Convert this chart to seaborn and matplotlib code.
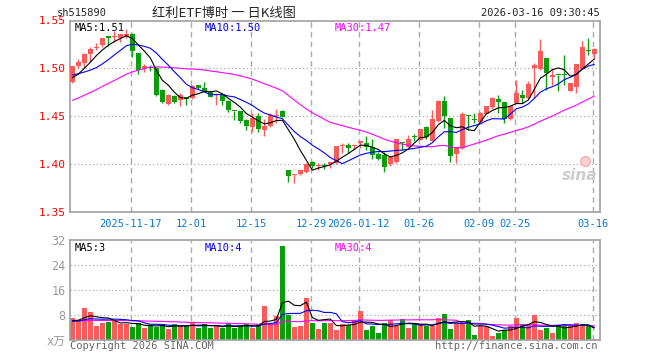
import numpy as np
import pandas as pd
import matplotlib
matplotlib.use('Agg')
import matplotlib.pyplot as plt
import seaborn as sns

# 日K数据 (2025-11-03 ~ 2026-03-16)
open_ = [1.486, 1.503, 1.506, 1.515, 1.521, 1.524, 1.534, 1.533, 1.532, 1.534,
         1.536, 1.516, 1.500, 1.501, 1.500, 1.477, 1.463, 1.4715, 1.467, 1.470,
         1.469, 1.4827, 1.479, 1.4757, 1.472, 1.473, 1.466, 1.4558, 1.4556, 1.4462,
         1.4385, 1.4503, 1.4357, 1.440, 1.4505, 1.455, 1.3937, 1.389, 1.3895, 1.392,
         1.4017, 1.3978, 1.3982, 1.400, 1.4007, 1.4185, 1.420, 1.4185, 1.4217, 1.4217,
         1.4182, 1.4105, 1.4094, 1.400, 1.4024, 1.4227, 1.4182, 1.4283, 1.4252, 1.4385,
         1.4245, 1.4455, 1.4661, 1.448, 1.4107, 1.4166, 1.4505, 1.4462, 1.4444, 1.4524,
         1.460, 1.4683, 1.4649, 1.4475, 1.4638, 1.4725, 1.469, 1.5003, 1.4997, 1.5108,
         1.4906, 1.4932, 1.4937, 1.4767, 1.4802, 1.4997, 1.518, 1.515]
high = [1.503, 1.510, 1.516, 1.522, 1.527, 1.532, 1.534, 1.539, 1.536, 1.541,
        1.537, 1.516, 1.505, 1.504, 1.501, 1.478, 1.473, 1.472, 1.474, 1.4705,
        1.483, 1.483, 1.4858, 1.4768, 1.4747, 1.4733, 1.4665, 1.4558, 1.456, 1.447,
        1.4538, 1.453, 1.447, 1.453, 1.4573, 1.4565, 1.394, 1.3897, 1.394, 1.401,
        1.4035, 1.4007, 1.4007, 1.4027, 1.419, 1.4224, 1.4217, 1.4203, 1.4245, 1.4294,
        1.4259, 1.4129, 1.4129, 1.408, 1.426, 1.4234, 1.4304, 1.4315, 1.437, 1.440,
        1.4566, 1.467, 1.4713, 1.4485, 1.418, 1.454, 1.451, 1.4531, 1.454, 1.461,
        1.470, 1.4725, 1.465, 1.461, 1.4882, 1.4777, 1.4864, 1.5056, 1.531, 1.511,
        1.5003, 1.4932, 1.5136, 1.4847, 1.5045, 1.5289, 1.5317, 1.521]
low = [1.485, 1.500, 1.500, 1.507, 1.519, 1.522, 1.523, 1.528, 1.528, 1.532,
       1.512, 1.494, 1.496, 1.497, 1.471, 1.464, 1.462, 1.464, 1.461, 1.462,
       1.4677, 1.478, 1.4765, 1.470, 1.4618, 1.462, 1.4549, 1.4462, 1.4427, 1.4357,
       1.434, 1.434, 1.4295, 1.439, 1.4427, 1.449, 1.3815, 1.380, 1.389, 1.391,
       1.3955, 1.3937, 1.3944, 1.3955, 1.400, 1.4119, 1.4119, 1.4147, 1.4164, 1.4147,
       1.405, 1.404, 1.392, 1.398, 1.4014, 1.4147, 1.4175, 1.4245, 1.425, 1.4259,
       1.4245, 1.4444, 1.4374, 1.4027, 1.401, 1.4155, 1.4357, 1.4427, 1.444, 1.452,
       1.458, 1.4534, 1.443, 1.446, 1.4635, 1.4638, 1.4685, 1.469, 1.4986, 1.4777,
       1.483, 1.476, 1.483, 1.476, 1.4743, 1.4997, 1.5143, 1.510]
close = [1.503, 1.507, 1.515, 1.520, 1.522, 1.532, 1.532, 1.534, 1.536, 1.536,
         1.518, 1.498, 1.502, 1.500, 1.4725, 1.465, 1.4725, 1.465, 1.4725, 1.4685,
         1.4817, 1.480, 1.4768, 1.4705, 1.4733, 1.4664, 1.4566, 1.4556, 1.4455, 1.440,
         1.4483, 1.4364, 1.440, 1.4514, 1.4514, 1.4497, 1.3874, 1.3895, 1.3937, 1.400,
         1.398, 1.3983, 1.3978, 1.4024, 1.4189, 1.4189, 1.4171, 1.420, 1.4241, 1.4175,
         1.4094, 1.4056, 1.3972, 1.4077, 1.4259, 1.4224, 1.4259, 1.428, 1.4364, 1.428,
         1.4472, 1.4664, 1.4503, 1.4086, 1.4176, 1.4524, 1.4503, 1.4458, 1.4531, 1.4608,
         1.4695, 1.4649, 1.4475, 1.4603, 1.4742, 1.469, 1.4836, 1.5031, 1.5184, 1.4948,
         1.493, 1.493, 1.4934, 1.4847, 1.5045, 1.5219, 1.5177, 1.5205]
# 成交量 (万手)
volume = [6.9, 6.4, 10.2, 9.1, 4.5, 5.5, 5.9, 6.3, 5.0, 5.0,
          4.3, 5.5, 3.9, 4.5, 4.3, 5.0, 3.6, 5.0, 4.5, 4.5,
          5.9, 3.9, 5.0, 3.9, 4.5, 3.9, 5.4, 3.9, 4.5, 5.1,
          3.9, 5.1, 11.0, 5.2, 7.8, 30.2, 8.0, 4.3, 4.6, 13.5,
          5.5, 3.5, 5.5, 5.5, 3.2, 5.0, 4.8, 6.3, 9.3, 3.2,
          4.5, 2.3, 5.5, 6.3, 4.5, 6.7, 3.9, 5.2, 5.0, 4.5,
          4.5, 7.1, 8.2, 3.6, 5.5, 5.0, 6.4, 1.6, 4.5, 4.5,
          1.3, 2.3, 3.2, 4.5, 7.1, 5.0, 4.8, 8.0, 3.2, 3.9,
          2.3, 4.8, 5.0, 4.5, 5.5, 4.8, 4.5, 0.3]
# 窗口之前的收盘价/成交量 (用于均线)
prior_close = [1.430, 1.428, 1.432, 1.435, 1.433, 1.438, 1.440, 1.437, 1.441, 1.444,
               1.443, 1.449, 1.458, 1.466, 1.472, 1.478, 1.482, 1.485, 1.488, 1.487,
               1.492, 1.498, 1.500, 1.496, 1.493, 1.488, 1.484, 1.489, 1.487]
prior_volume = [5.5, 6.0, 5.2, 6.4, 5.8, 6.1, 5.3, 5.9, 6.2, 5.6,
                6.0, 5.4, 6.3, 5.7, 5.8, 6.5, 5.9, 6.7, 7.4, 6.8,
                5.9, 6.1, 5.4, 5.8, 6.0, 5.6, 6.3, 5.9, 6.2]

tick_idx = [10, 20, 30, 40, 48, 58, 68, 74, 87]
tick_labels = ['2025-11-17', '12-01', '12-15', '12-29', '2026-01-12',
               '01-26', '02-09', '02-25', '03-16']

sns.set_theme(style='white')
plt.rcParams['font.family'] = ['DejaVu Sans Mono', 'Noto Sans CJK SC']

n = len(close)
df = pd.DataFrame({'day': np.arange(n), 'open': open_, 'high': high,
                   'low': low, 'close': close, 'vol': volume})
all_c = pd.Series(prior_close + close)
all_v = pd.Series(prior_volume + volume)
k = len(prior_close)
for w in (5, 10, 30):
    df['ma%d' % w] = all_c.rolling(w).mean().iloc[k:].values
    df['vma%d' % w] = all_v.rolling(w).mean().iloc[k:].values

RED = '#fa5a5a'
GREEN = '#0a9f0a'
cols = [RED if c >= o else GREEN for o, c in zip(df['open'], df['close'])]
GRID = '#aaaaaa'
FRAME = '#a0a0a0'
LW = 0.8

fig = plt.figure(figsize=(6.6, 3.6), dpi=100)
ax = fig.add_axes([70 / 660, 1 - 212 / 360, 530 / 660, 191.5 / 360])
axv = fig.add_axes([70 / 660, 1 - 340 / 360, 530 / 660, 100 / 360])

grid_x = [t - 0.25 for t in tick_idx]

# K线
for a in (ax, axv):
    for gx in grid_x:
        a.axvline(gx, color=GRID, ls=(0, (4, 3)), lw=1, zorder=0)
for y in (1.40, 1.45, 1.50):
    ax.axhline(y, color=GRID, ls=(0, (1, 2)), lw=0.9, zorder=0)

ax.vlines(df['day'], df['low'], df['high'], colors=cols, lw=1, zorder=2)
body = np.maximum((df['close'] - df['open']).abs(), 0.0011)
ax.bar(df['day'], body, bottom=np.minimum(df['open'], df['close']),
       width=0.75, color=cols, linewidth=0, zorder=3)

sns.lineplot(data=df, x='day', y='ma30', color='#ff00ff', lw=LW, ax=ax, zorder=4)
sns.lineplot(data=df, x='day', y='ma10', color='#0000ff', lw=LW, ax=ax, zorder=4)
sns.lineplot(data=df, x='day', y='ma5', color='black', lw=LW, ax=ax, zorder=4)

ax.set_xlim(-0.4, 87.95)
ax.set_ylim(1.35, 1.55)
ax.set_yticks([1.35, 1.40, 1.45, 1.50, 1.55])
ax.set_yticklabels(['%.2f' % v for v in [1.35, 1.40, 1.45, 1.50, 1.55]])
ax.set_xticks(grid_x)
ax.set_xticklabels(tick_labels)
ax.tick_params(axis='y', colors='red', labelsize=8, length=0, pad=3)
ax.tick_params(axis='x', labelcolor='#0a78d0', labelsize=7.5, length=3,
               direction='in', color=FRAME, pad=5)
ax.set_xlabel('')
ax.set_ylabel('')

ax.text(0.008, 0.985, 'MA5:1.51', transform=ax.transAxes, color='black',
        fontsize=7.5, va='top', ha='left')
ax.text(0.254, 0.985, 'MA10:1.50', transform=ax.transAxes, color='#0000ff',
        fontsize=7.5, va='top', ha='left')
ax.text(0.500, 0.985, 'MA30:1.47', transform=ax.transAxes, color='#ff00ff',
        fontsize=7.5, va='top', ha='left')
# 水印
ax.text(0.962, 0.19, 'sina', transform=ax.transAxes, color='#cccccc',
        fontsize=11, fontweight='bold', style='italic', ha='center',
        va='center', family='DejaVu Sans', zorder=1)
ax.plot([0.972], [0.265], transform=ax.transAxes, marker='o', ms=7,
        mfc='#f8d0d0', mec='#f0b0b0', mew=1, zorder=1)

# 成交量
for y in (8, 16, 24):
    axv.axhline(y, color=GRID, ls=(0, (1, 2)), lw=0.9, zorder=0)
axv.bar(df['day'], df['vol'], width=0.8, color=cols, linewidth=0, zorder=2)
sns.lineplot(data=df, x='day', y='vma30', color='#ff00ff', lw=LW, ax=axv, zorder=3)
sns.lineplot(data=df, x='day', y='vma10', color='#0000ff', lw=LW, ax=axv, zorder=3)
sns.lineplot(data=df, x='day', y='vma5', color='black', lw=LW, ax=axv, zorder=3)
axv.set_xlim(-0.4, 87.95)
axv.set_ylim(0, 32)
axv.set_yticks([0, 8, 16, 24, 32])
axv.set_yticklabels(['x万', '8', '16', '24', '32'])
axv.set_xticks([])
axv.tick_params(axis='y', colors='#999999', labelsize=8.5, length=0, pad=3)
axv.set_xlabel('')
axv.set_ylabel('')
axv.text(0.008, 0.97, 'MA5:3', transform=axv.transAxes, color='black',
         fontsize=7.5, va='top', ha='left')
axv.text(0.254, 0.97, 'MA10:4', transform=axv.transAxes, color='#0000ff',
         fontsize=7.5, va='top', ha='left')
axv.text(0.500, 0.97, 'MA30:4', transform=axv.transAxes, color='#ff00ff',
         fontsize=7.5, va='top', ha='left')

for a in (ax, axv):
    for s in a.spines.values():
        s.set_color(FRAME)
        s.set_linewidth(1.2)

# 页头页脚
fig.text(57 / 660, 1 - 13 / 360, 'sh515890', fontsize=7.5, va='center', ha='left')
fig.text(224 / 660, 1 - 13 / 360, '红利ETF博时 一 日K线图', fontsize=9.5,
         va='center', ha='center', family=['Noto Sans CJK SC', 'DejaVu Sans'])
fig.text(600 / 660, 1 - 13 / 360, '2026-03-16 09:30:45', fontsize=7.5,
         va='center', ha='right')
fig.text(70 / 660, 1 - 346 / 360, 'Copyright 2026 SINA.COM', fontsize=7.5,
         va='center', ha='left', color='#666666')
fig.text(598 / 660, 1 - 346 / 360, 'http://finance.sina.com.cn', fontsize=7.5,
         va='center', ha='right', color='#666666')

fig.savefig('out.png', dpi=100, facecolor='white')
